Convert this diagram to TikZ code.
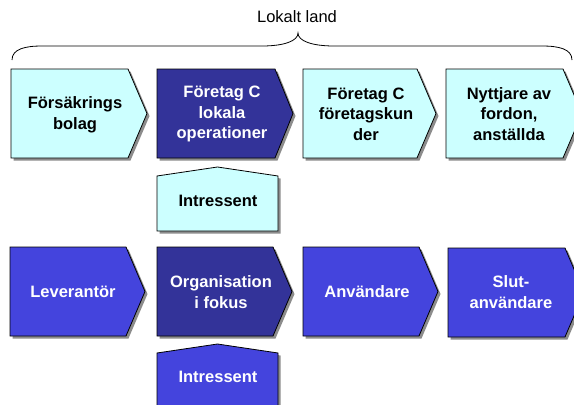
\documentclass[tikz,border=0pt]{standalone}
\usepackage{fontspec}
\setmainfont{Liberation Sans}
\definecolor{lightc}{HTML}{CCFFFF}
\definecolor{navy}{HTML}{333399}
\definecolor{midblue}{HTML}{4444DD}
\definecolor{shadowc}{HTML}{8C8C8C}
\tikzset{
  boxline/.style={draw=black, line width=0.8pt, line join=miter},
  lightbox/.style={boxline, fill=lightc},
  navybox/.style={boxline, fill=navy},
  bluebox/.style={boxline, fill=midblue},
  darktext/.style={font=\fontsize{16.5}{20.5}\selectfont\bfseries, align=center, text=black},
  whitetext/.style={font=\fontsize{16.5}{20.5}\selectfont\bfseries, align=center, text=white},
  labeltext/.style={font=\fontsize{16.5}{19}\selectfont, text=black},
}
% chevron: #1 left, #2 top, #3 flat right, #4 tip, #5 bottom, #6 style
\newcommand\chevshape[6]{%
  \begin{scope}[shift={(2.5,2.5)}]
  \fill[shadowc] (#1,#2) -- (#3,#2) -- (#4,{(#2+#5)/2}) -- (#3,#5) -- (#1,#5) -- cycle;
  \end{scope}
  \draw[#6] (#1,#2) -- (#3,#2) -- (#4,{(#2+#5)/2}) -- (#3,#5) -- (#1,#5) -- cycle;
}
% up pentagon: #1 left, #2 peak, #3 shoulder, #4 right, #5 bottom, #6 style
\newcommand\uppent[6]{%
  \begin{scope}[shift={(2.5,2.5)}]
  \fill[shadowc] (#1,#3) -- ({(#1+#4)/2},#2) -- (#4,#3) -- (#4,#5) -- (#1,#5) -- cycle;
  \end{scope}
  \draw[#6] (#1,#3) -- ({(#1+#4)/2},#2) -- (#4,#3) -- (#4,#5) -- (#1,#5) -- cycle;
}
\begin{document}
\begin{tikzpicture}[x=1pt,y=-1pt]
\useasboundingbox (0,0) rectangle (574,405);
\clip (0,0) rectangle (574,405);

% brace and label
\node[labeltext] (land) at (297,17) {Lokalt land};
\draw[line width=0.8pt] (12,60) .. controls (12,49) and (25,46) .. (42,46) -- (262,46)
  .. controls (284,46) and (298,41) .. (298,33)
  .. controls (298,41) and (312,46) .. (334,46) -- (542,46)
  .. controls (559,46) and (572,49) .. (572,60);

% row 1
\chevshape{11}{69}{128}{147}{158}{lightbox}
\node[darktext] (fors) at (75,115) {Försäkrings\\bolag};
\chevshape{157}{69}{275}{293}{158}{navybox}
\node[whitetext] (focl) at (222,114) {Företag C\\lokala\\operationer};
\chevshape{303}{69}{417}{436}{158}{lightbox}
\node[darktext] (focf) at (366,114) {Företag C\\företagskun\\der};
\chevshape{446}{69}{563}{582}{158}{lightbox}
\node[darktext] (nytt) at (509,114) {Nyttjare av\\fordon,\\anställda};

% intressent (top)
\uppent{157}{167}{176}{278}{231}{lightbox}
\node[darktext] (int1) at (218,201) {Intressent};

% row 2
\chevshape{10}{247}{126}{145}{336}{bluebox}
\node[whitetext] (lev) at (73,292) {Leverantör};
\chevshape{157}{247}{273}{292}{336}{navybox}
\node[whitetext] (org) at (221,292) {Organisation\\i fokus};
\chevshape{303}{247}{419}{438}{336}{bluebox}
\node[whitetext] (anv) at (367,292) {Användare};
\chevshape{448}{248}{565}{584}{337}{bluebox}
\node[whitetext] (slut) at (511,292) {Slut-\\användare};

% intressent (bottom)
\uppent{157}{344}{353}{278}{420}{bluebox}
\node[whitetext] (int2) at (218,377) {Intressent};
\end{tikzpicture}
\end{document}
